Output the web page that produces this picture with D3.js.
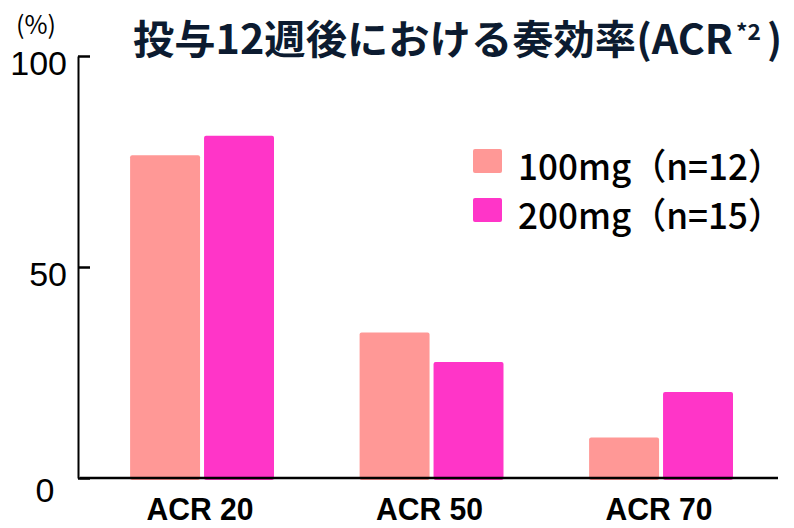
<!DOCTYPE html>
<html>
<head>
<meta charset="utf-8">
<script src="https://cdn.jsdelivr.net/npm/d3@7"></script>
<style>
  body { margin: 0; background: #fff; }
  svg { display: block; }
</style>
</head>
<body>
<div id="chart"></div>
<script>
// data (%)
const categories = ["ACR 20", "ACR 50", "ACR 70"];
const seriesNames = ["100mg（n=12）", "200mg（n=15）"];
const dose100 = [76.5, 34.5, 9.6];
const dose200 = [81.1, 27.5, 20.4];
const yTicks = [0, 50, 100];

const colors = ["#ff9896", "#ff35c8"];
const width = 794, height = 528;

const rows = categories.map((c, i) => ({cat: c, values: [dose100[i], dose200[i]]}));

const svg = d3.select("#chart").append("svg")
    .attr("width", width)
    .attr("height", height);

const y = d3.scaleLinear().domain([0, 100]).range([478, 56]);

const x0 = d3.scaleBand()
    .domain(categories)
    .range([87.3, 775.8])
    .paddingInner(0.373)
    .paddingOuter(0.1865);

const x1 = d3.scaleBand()
    .domain([0, 1])
    .range([0, x0.bandwidth()])
    .paddingInner(0.054);

// bars
const groups = svg.append("g")
  .selectAll("g")
  .data(rows)
  .join("g")
    .attr("transform", d => `translate(${x0(d.cat)},0)`);

groups.selectAll("rect")
  .data(d => d.values)
  .join("rect")
    .attr("x", (d, i) => x1(i))
    .attr("y", d => y(d))
    .attr("width", x1.bandwidth())
    .attr("height", d => y(0) - y(d) + 2)
    .attr("rx", 2)
    .attr("fill", (d, i) => colors[i]);

// y axis, ticks pointing inward
const yAxis = svg.append("g")
    .attr("transform", "translate(78,0)")
    .call(d3.axisLeft(y).tickValues(yTicks).tickSize(-12).tickSizeOuter(0).tickPadding(11));

yAxis.select(".domain").attr("stroke", "#000").attr("stroke-width", 2);
yAxis.selectAll(".tick line").attr("stroke", "#000").attr("stroke-width", 2.5);
yAxis.selectAll(".tick text")
    .attr("font-family", "'Liberation Sans', Arial, sans-serif")
    .attr("font-size", 34)
    .attr("fill", "#000")
    .attr("dy", "0.55em");
// the zero label sits lower and further left
yAxis.selectAll(".tick text").filter(d => d === 0)
    .attr("x", -33)
    .attr("text-anchor", "middle")
    .attr("dy", "0.68em");

// baseline
svg.append("line")
    .attr("x1", 80).attr("x2", 778)
    .attr("y1", y(0)).attr("y2", y(0))
    .attr("stroke", "#000")
    .attr("stroke-width", 2.5);

// category labels
svg.append("g")
  .selectAll("text")
  .data(categories)
  .join("text")
    .attr("x", d => x0(d) + x0.bandwidth() / 2 - 2)
    .attr("y", 520)
    .attr("text-anchor", "middle")
    .attr("font-family", "'Liberation Sans', Arial, sans-serif")
    .attr("font-weight", "bold")
    .attr("font-size", 32)
    .attr("textLength", 107)
    .attr("lengthAdjust", "spacingAndGlyphs")
    .text(d => d);

// unit label
svg.append("text")
    .attr("x", 36)
    .attr("y", 34)
    .attr("text-anchor", "middle")
    .attr("font-family", "'Noto Sans CJK JP', sans-serif")
    .attr("font-size", 25)
    .attr("textLength", 40)
    .attr("lengthAdjust", "spacingAndGlyphs")
    .text("(%)");

// title
const titleColor = "#0c1b30";
svg.append("text")
    .attr("x", 133)
    .attr("y", 54)
    .attr("font-family", "'Noto Sans CJK JP', sans-serif")
    .attr("font-weight", "bold")
    .attr("font-size", 40)
    .attr("fill", titleColor)
    .attr("textLength", 600)
    .attr("lengthAdjust", "spacingAndGlyphs")
    .text("投与12週後における奏効率(ACR");

svg.append("text")
    .attr("x", 736)
    .attr("y", 40)
    .attr("font-family", "'Noto Sans CJK JP', sans-serif")
    .attr("font-weight", "bold")
    .attr("font-size", 22)
    .attr("fill", titleColor)
    .attr("textLength", 25)
    .attr("lengthAdjust", "spacingAndGlyphs")
    .text("*2");

svg.append("text")
    .attr("x", 767)
    .attr("y", 54)
    .attr("font-family", "'Noto Sans CJK JP', sans-serif")
    .attr("font-weight", "bold")
    .attr("font-size", 40)
    .attr("fill", titleColor)
    .text(")");

// legend
const legend = svg.append("g")
  .selectAll("g")
  .data(seriesNames)
  .join("g")
    .attr("transform", (d, i) => `translate(473,${149 + i * 49})`);

legend.append("rect")
    .attr("width", 29)
    .attr("height", 24)
    .attr("rx", 2)
    .attr("fill", (d, i) => colors[i]);

legend.append("text")
    .attr("x", 45)
    .attr("y", 31)
    .attr("font-family", "'Noto Sans CJK JP', sans-serif")
    .attr("font-weight", 500)
    .attr("font-size", 36)
    .attr("textLength", 265)
    .attr("lengthAdjust", "spacingAndGlyphs")
    .text(d => d);
</script>
</body>
</html>
